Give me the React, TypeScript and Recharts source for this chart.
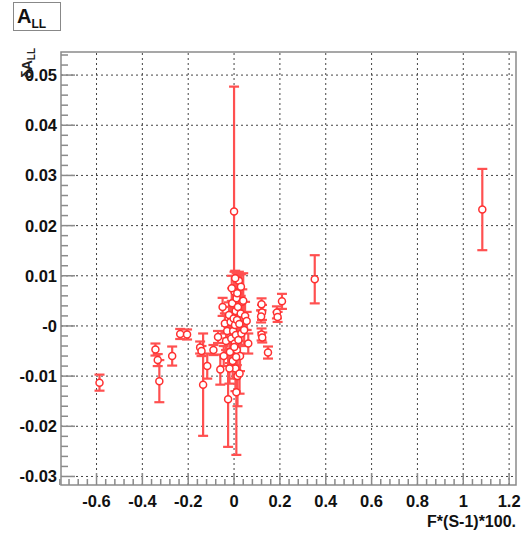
import { ScatterChart, Scatter, XAxis, YAxis, ErrorBar, ReferenceLine, ReferenceArea } from 'recharts';

// F*(S-1)*100 of each run
const xValues = [
  -0.587, -0.343, -0.333, -0.326, -0.27, -0.235, -0.205, -0.148, -0.142, -0.135,
  -0.117, -0.09, -0.06, -0.05, -0.07, 0.352, 1.083, 0.12, 0.122, 0.118,
  0.12, 0.123, 0.148, 0.187, 0.19, 0.209, -0.026, 0.0, 0.01, -0.04,
  -0.035, -0.03, -0.022, -0.018, -0.015, -0.012, -0.008, -0.006, -0.004, -0.002,
  0.002, 0.003, 0.004, 0.006, 0.007, 0.008, 0.011, 0.012, 0.013, 0.015,
  0.017, 0.019, 0.021, 0.023, 0.026, 0.029, 0.032, 0.036, 0.04, 0.044,
  0.048, 0.055, 0.062, -0.045, -0.01, 0.005, 0.014, 0.024, 0.009, -0.02,
  0.03, 0.001,
];
// A_LL
const yValues = [
  -0.0113, -0.0047, -0.0068, -0.011, -0.006, -0.0016, -0.0017, -0.0043, -0.005, -0.0117,
  -0.008, -0.0048, -0.0087, 0.0038, -0.0022, 0.0093, 0.0232, 0.0043, 0.0027, 0.0019,
  -0.0017, -0.0023, -0.0053, 0.0027, 0.0018, 0.0049, -0.0146, 0.0228, -0.0132, 0.0005,
  -0.003, -0.001, 0.0022, -0.0052, 0.0008, -0.0025, 0.0045, -0.007, -0.001, 0.0015,
  0.0068, -0.0035, 0.0002, -0.0085, 0.003, -0.0018, 0.0055, -0.0048, 0.0012, -0.01,
  0.0038, -0.0028, 0.009, 0.0004, -0.006, 0.0025, -0.0015, 0.0048, 0.005, -0.0008,
  0.002, 0.001, -0.0035, -0.006, 0.0075, 0.0095, 0.0065, -0.0095, -0.0062, -0.0085,
  0.0078, -0.0042,
];
// δA_LL
const yErrors = [
  0.0016, 0.0012, 0.0012, 0.0042, 0.0019, 0.001, 0.001, 0.0012, 0.001, 0.0102,
  0.0025, 0.001, 0.003, 0.0018, 0.0012, 0.0048, 0.0081, 0.0012, 0.0015, 0.0012,
  0.0012, 0.001, 0.0012, 0.0012, 0.001, 0.0015, 0.0095, 0.0249, 0.0125, 0.002,
  0.0018, 0.0015, 0.0025, 0.0022, 0.003, 0.002, 0.003, 0.0035, 0.0025, 0.002,
  0.004, 0.0025, 0.0035, 0.0045, 0.0022, 0.0028, 0.005, 0.003, 0.0025, 0.006,
  0.0028, 0.0032, 0.0018, 0.0022, 0.003, 0.0035, 0.0025, 0.0025, 0.0055, 0.003,
  0.0028, 0.0018, 0.002, 0.002, 0.0025, 0.0015, 0.003, 0.004, 0.0028, 0.003,
  0.0025, 0.004,
];

const xMajorTicks = [-0.6, -0.4, -0.2, 0, 0.2, 0.4, 0.6, 0.8, 1, 1.2];
const xTickLabels = ['-0.6', '-0.4', '-0.2', '0', '0.2', '0.4', '0.6', '0.8', '1', '1.2'];
const yMajorTicks = [-0.03, -0.02, -0.01, 0, 0.01, 0.02, 0.03, 0.04, 0.05];
const yTickLabels = ['-0.03', '-0.02', '-0.01', '-0', '0.01', '0.02', '0.03', '0.04', '0.05'];

const xDomain = [-0.755, 1.23];
const yDomain = [-0.0317, 0.0546];

const points = xValues.map((x, i) => ({ x, y: yValues[i], ey: yErrors[i] }));

// minor ticks: 5 divisions between majors
const xMinor: number[] = [];
for (let k = -19; k <= 30; k++) xMinor.push(+(k * 0.04).toFixed(3));
const yMinor: number[] = [];
for (let k = -15; k <= 27; k++) yMinor.push(+(k * 0.002).toFixed(4));

const font = '"Liberation Sans", Arial, sans-serif';
const axisGray = '#8a8a8a';

const findMajor = (arr: number[], v: number) => arr.findIndex((t) => Math.abs(t - v) < 1e-9);

function YTick(props: any) {
  const { x, y, payload } = props;
  const i = findMajor(yMajorTicks, payload.value);
  const ax = x + 4;
  return (
    <g>
      <line x1={ax} x2={ax + (i >= 0 ? 14 : 7)} y1={y} y2={y} stroke={axisGray} strokeWidth={1.5} />
      {i >= 0 && (
        <text x={x} y={y} dy={6} textAnchor="end" fontFamily={font} fontWeight="bold" fontSize={16.5} fill="#111">
          {yTickLabels[i]}
        </text>
      )}
    </g>
  );
}

function XTick(props: any) {
  const { x, y, payload } = props;
  const i = findMajor(xMajorTicks, payload.value);
  const ay = y - 4;
  return (
    <g>
      <line x1={x} x2={x} y1={ay} y2={ay - (i >= 0 ? 12 : 6)} stroke={axisGray} strokeWidth={1.5} />
      {i >= 0 && (
        <text x={x} y={ay + 22} textAnchor="middle" fontFamily={font} fontWeight="bold" fontSize={16.5} fill="#111">
          {xTickLabels[i]}
        </text>
      )}
    </g>
  );
}

const Marker = (p: any) => (
  <circle cx={p.cx} cy={p.cy} r={3.5} fill="#fff" stroke="#ff3030" strokeWidth={1.5} />
);

export default function App() {
  return (
    <div style={{ position: 'absolute', left: 0, top: 0, width: 521, height: 533, background: '#fff' }}>
      <ScatterChart width={521} height={533} margin={{ top: 52, right: 5, bottom: 0, left: 0 }}>
        <XAxis
          type="number"
          dataKey="x"
          domain={xDomain}
          allowDataOverflow
          ticks={xMinor}
          interval={0}
          height={48}
          tickSize={0}
          tickMargin={4}
          tickLine={false}
          axisLine={false}
          tick={<XTick />}
        />
        <YAxis
          type="number"
          dataKey="y"
          domain={yDomain}
          allowDataOverflow
          ticks={yMinor}
          interval={0}
          width={61}
          tickSize={0}
          tickMargin={4}
          tickLine={false}
          axisLine={false}
          tick={<YTick />}
        />
        {xMajorTicks.map((v) => (
          <ReferenceLine key={'gx' + v} x={v} stroke="#444" strokeDasharray="2 3" />
        ))}
        {yMajorTicks.map((v) => (
          <ReferenceLine key={'gy' + v} y={v} stroke="#444" strokeDasharray="2 3" />
        ))}
        <ReferenceArea
          x1={xDomain[0]}
          x2={xDomain[1]}
          y1={yDomain[0]}
          y2={yDomain[1]}
          fill="none"
          stroke={axisGray}
          strokeWidth={1.5}
        />
        <Scatter data={points} isAnimationActive={false} shape={Marker}>
          <ErrorBar dataKey="ey" direction="y" width={5} stroke="#ff5050" strokeWidth={2.2} isAnimationActive={false} />
        </Scatter>
      </ScatterChart>
      <div
        style={{
          position: 'absolute', left: 13, top: 2, width: 48, height: 29,
          border: '1.5px solid #888', fontFamily: font, fontWeight: 'bold', color: '#111',
          boxSizing: 'border-box', paddingLeft: 3, lineHeight: '26px',
        }}
      >
        <span style={{ fontSize: 20 }}>A</span>
        <span style={{ fontSize: 12, position: 'relative', top: 5 }}>LL</span>
      </div>
      <div
        style={{
          position: 'absolute', left: 27, top: 48, fontFamily: font, fontWeight: 'bold', color: '#222',
          fontSize: 14, whiteSpace: 'nowrap', transformOrigin: '0 0',
          transform: 'rotate(-90deg) translate(-100%, -50%)',
        }}
      >
        δA<span style={{ fontSize: 10, position: 'relative', top: 3 }}>LL</span>
      </div>
      <div
        style={{
          position: 'absolute', right: 5, top: 513, fontFamily: font, fontWeight: 'bold',
          color: '#111', fontSize: 16, whiteSpace: 'nowrap',
        }}
      >
        F*(S-1)*100.
      </div>
    </div>
  );
}
